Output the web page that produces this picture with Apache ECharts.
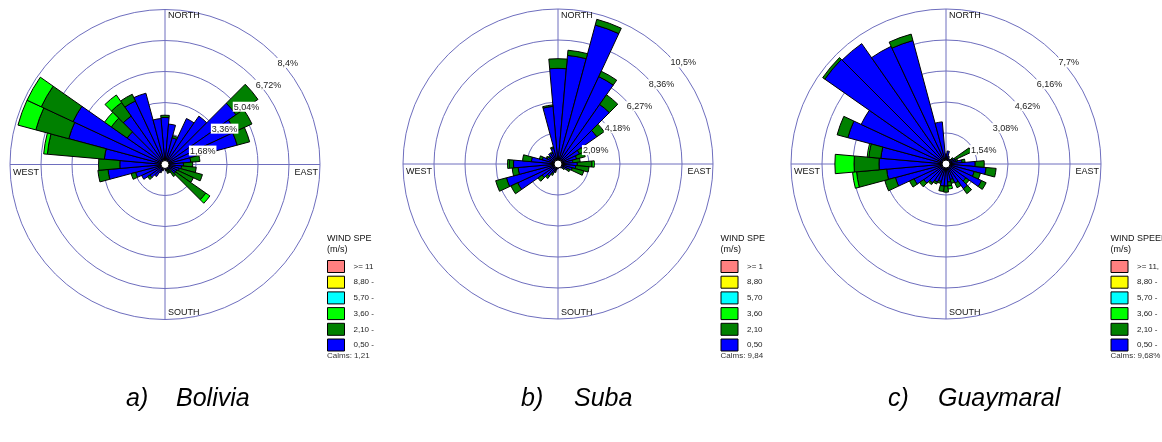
<!DOCTYPE html>
<html><head><meta charset="utf-8">
<script src="https://cdn.jsdelivr.net/npm/echarts@6/dist/echarts.min.js"></script>
<style>html,body{margin:0;padding:0;background:#fff}#c{width:1162px;height:442px}</style>
</head><body><div id="c"></div>
<script>
// ---------- data ----------
const directions = ['0','10','20','30','40','50','60','70','80','90','100','110','120','130','140','150','160','170',
  '180','190','200','210','220','230','240','250','260','270','280','290','300','310','320','330','340','350'];
const speedClasses = ['0,50 - 2,10','2,10 - 3,60','3,60 - 5,70','5,70 - 8,80','8,80 - 11,10','>= 11,10'];
const classColors = ['#0000ff','#008000','#00ff00','#00ffff','#ffff00','#ff8080'];
const compassNames = ['NORTH','EAST','SOUTH','WEST'];
const stationNames = ['Bolivia','Suba','Guaymaral'];
const stationLetters = ['a)','b)','c)'];
const calms = ['Calms: 1,21%','Calms: 9,84%','Calms: 9,68%'];
const ringSteps = [1.68, 2.09, 1.54];
const boliviaRings = ['1,68%','3,36%','5,04%','6,72%','8,4%'];
const subaRings = ['2,09%','4,18%','6,27%','8,36%','10,5%'];
const guaymaralRings = ['1,54%','3,08%','4,62%','6,16%','7,7%'];

// Bolivia (% frequency per 10-degree sector, N clockwise)
const boliviaBlue = [2.55,2.2,1.5,2.75,3.2,4.7,4.2,4.05,1.4,1.0,0.9,0.8,0.7,0.7,0.35,0.3,0.3,0.25,
  0.2,0.25,0.35,0.5,0.8,1.0,1.4,1.65,3.1,2.45,3.3,5.4,5.5,2.5,3.2,3.8,4.0,2.5];
const boliviaDkGreen = [0.12,0,0.12,0,0,1.45,1.0,0.7,0.5,0.5,0.8,1.3,1.0,2.0,0.45,0.2,0.2,0.1,
  0,0,0,0,0,0.15,0,0.25,0.55,1.15,3.1,1.85,1.9,1.05,0.9,0.4,0,0];
const boliviaLtGreen = [0,0,0,0,0,0,0,0,0,0,0,0,0,0.27,0,0,0,0,
  0,0,0,0,0,0,0,0,0,0,0.2,1.0,0.85,0.45,0.5,0,0,0];
const boliviaCyan = [0,0,0,0,0,0,0,0,0,0,0,0,0,0,0,0,0,0,0,0,0,0,0,0,0,0,0,0,0,0,0,0,0,0,0,0];
const boliviaYellow = [0,0,0,0,0,0,0,0,0,0,0,0,0,0,0,0,0,0,0,0,0,0,0,0,0,0,0,0,0,0,0,0,0,0,0,0];
const boliviaPink = [0,0,0,0,0,0,0,0,0,0,0,0,0,0,0,0,0,0,0,0,0,0,0,0,0,0,0,0,0,0,0,0,0,0,0,0];

// Suba
const subaBlue = [6.45,7.35,9.7,6.5,4.9,3.2,1.6,1.3,1.0,1.3,1.2,1.0,0.7,0.45,0.35,0.3,0.25,0.25,
  0.3,0.35,0.5,0.7,1.0,1.3,3.0,3.6,2.7,3.0,1.8,1.1,0.8,0.7,0.9,0.8,1.1,3.9];
const subaDkGreen = [0.65,0.35,0.4,0.4,0.8,0.6,0.3,0.6,0.5,1.0,0.9,0.8,0.2,0.1,0,0,0,0,
  0,0,0.1,0.15,0.2,0.35,0.5,0.75,0.4,0.3,0.6,0.2,0.1,0.1,0,0.1,0.1,0.1];
const subaLtGreen = [0,0,0,0,0,0,0,0,0,0.15,0,0,0,0,0,0,0,0,
  0,0,0,0,0,0,0,0,0,0.1,0,0,0,0,0,0,0,0];
const subaCyan = [0,0,0,0,0,0,0,0,0,0,0,0,0,0,0,0,0,0,0,0,0,0,0,0,0,0,0,0,0,0,0,0,0,0,0,0];
const subaYellow = [0,0,0,0,0,0,0,0,0,0,0,0,0,0,0,0,0,0,0,0,0,0,0,0,0,0,0,0,0,0,0,0,0,0,0,0];
const subaPink = [0,0,0,0,0,0,0,0,0,0,0,0,0,0,0,0,0,0,0,0,0,0,0,0,0,0,0,0,0,0,0,0,0,0,0,0];

// Guaymaral
const guaymaralBlue = [0.5,0.65,0.4,0.3,0.3,0.35,0.5,0.5,0.8,1.45,2.0,1.45,1.95,1.2,1.5,1.05,0.8,0.9,
  1.1,1.1,0.9,1.0,1.15,1.35,1.75,2.6,2.96,3.33,3.25,5.05,4.65,7.35,7.3,6.45,6.35,2.1];
const guaymaralDkGreen = [0,0,0,0,0,0.1,0.9,0.1,0.15,0.45,0.5,0.32,0.25,0.2,0.3,0.25,0.2,0.2,
  0.3,0.27,0.1,0.1,0.1,0.25,0.25,0.55,1.5,1.24,0.6,0.55,0,0.13,0,0,0.33,0];
const guaymaralLtGreen = [0,0,0,0,0,0,0,0,0,0,0,0,0,0,0,0,0,0.15,
  0,0,0,0,0,0,0,0,0.2,0.95,0.08,0,0,0,0,0,0,0];
const guaymaralCyan = [0,0,0,0,0,0,0,0,0,0,0,0,0,0,0,0,0,0,0,0,0,0,0,0,0,0,0,0,0,0,0,0,0,0,0,0];
const guaymaralYellow = [0,0,0,0,0,0,0,0,0,0,0,0,0,0,0,0,0,0,0,0,0,0,0,0,0,0,0,0,0,0,0,0,0,0,0,0];
const guaymaralPink = [0,0,0,0,0,0,0,0,0,0,0,0,0,0,0,0,0,0,0,0,0,0,0,0,0,0,0,0,0,0,0,0,0,0,0,0];

const stationSeries = [
  [boliviaBlue, boliviaDkGreen, boliviaLtGreen, boliviaCyan, boliviaYellow, boliviaPink],
  [subaBlue, subaDkGreen, subaLtGreen, subaCyan, subaYellow, subaPink],
  [guaymaralBlue, guaymaralDkGreen, guaymaralLtGreen, guaymaralCyan, guaymaralYellow, guaymaralPink]
];
const stationRings = [boliviaRings, subaRings, guaymaralRings];

// ---------- layout ----------
const CENTERS = [[165,164.5],[558,164],[946,164]];
const R = 155;
const LEGEND_X = [327, 720.5, 1110.5];
const LEGEND_TEXT_W = [21.5, 17.5, 26];   // visible width of legend labels (panel is cropped)
const TITLE_W = [52, 48.5, 60];
const CALM_W = [48.5, 46.5, 60];
const CAPTION_X = [[126,176],[521,574],[888,938]];
const CAPTION_Y = 399;
const GRID = '#6e6ebe';
const FONT = '"Liberation Sans", Arial, sans-serif';

const chart = echarts.init(document.getElementById('c'));
const polar = [], angleAxis = [], radiusAxis = [], series = [], legend = [], graphic = [];

stationNames.forEach((name, i) => {
  const [cx, cy] = CENTERS[i];
  const step = ringSteps[i];
  const max = +(step * 5).toFixed(4);
  const pMain = 2 * i, pCross = 2 * i + 1;
  polar.push({ center: [cx, cy], radius: [0, R] });
  polar.push({ center: [cx, cy], radius: [0, R] });
  angleAxis.push({ polarIndex: pMain, type: 'category', data: directions, startAngle: 95, clockwise: true,
    boundaryGap: true, axisLine: { show: false }, axisTick: { show: false }, axisLabel: { show: false }, splitLine: { show: false } });
  radiusAxis.push({ polarIndex: pMain, type: 'value', min: 0, max: max, interval: step,
    axisLine: { show: false }, axisTick: { show: false }, axisLabel: { show: false },
    splitLine: { show: true, lineStyle: { color: GRID, width: 1 } } });
  angleAxis.push({ polarIndex: pCross, type: 'value', min: 0, max: 360, interval: 90, startAngle: 90, clockwise: true,
    axisLine: { show: false }, axisTick: { show: false }, axisLabel: { show: false },
    splitLine: { show: true, lineStyle: { color: GRID, width: 1 } } });
  radiusAxis.push({ polarIndex: pCross, type: 'value', min: 0, max: 1, axisLine: { show: false }, axisTick: { show: false },
    axisLabel: { show: false }, splitLine: { show: false } });

  stationSeries[i].forEach((vals, j) => {
    series.push({
      type: 'bar', coordinateSystem: 'polar', polarIndex: pMain, name: speedClasses[j], stack: 'st' + i,
      data: vals.map(v => (v > 0 ? v : '-')),
      barCategoryGap: '0%',
      itemStyle: { color: classColors[j], borderColor: '#000', borderWidth: 1 },
      emphasis: { disabled: true }, animation: false, z: 3
    });
  });
  // calm circle at the centre
  series.push({ type: 'pie', center: [cx, cy], radius: [0, 4], silent: true, animation: false,
    data: [{ value: 1, name: 'calm' + i }], label: { show: false }, labelLine: { show: false },
    itemStyle: { color: '#fff', borderColor: '#000', borderWidth: 1 }, z: 5 });

  const lx = LEGEND_X[i];
  legend.push({ left: lx, top: 260, padding: 0, orient: 'vertical', itemWidth: 17, itemHeight: 12, itemGap: 2.7, icon: 'rect',
    selectedMode: false, data: speedClasses.slice().reverse(),
    itemStyle: { borderColor: '#000', borderWidth: 1 },
    textStyle: { fontSize: 8, fontFamily: FONT, color: '#222',
      width: LEGEND_TEXT_W[i], overflow: 'truncate', ellipsis: '', padding: [0, 0, 0, 4] } });

  const txt = (t, x, y, opt) => graphic.push({ type: 'text', z: 50, silent: true,
    style: Object.assign({ text: t, x: x, y: y, fill: '#111', font: '9px ' + FONT, align: 'left', verticalAlign: 'middle' }, opt || {}) });

  txt('WIND SPEED', lx, 238.5, { width: TITLE_W[i], overflow: 'truncate', ellipsis: '' });
  txt('(m/s)', lx, 250, { width: TITLE_W[i], overflow: 'truncate', ellipsis: '' });
  txt(calms[i], lx, 356, { font: '8px ' + FONT, fill: '#333', width: CALM_W[i], overflow: 'truncate', ellipsis: '' });

  // compass labels
  txt(compassNames[0], cx + 3, cy - 148.5);
  txt(compassNames[1], cx + 153, cy + 8, { align: 'right' });
  txt(compassNames[2], cx + 3, cy + 148.5);
  txt(compassNames[3], cx - 152, cy + 8);

  // ring labels along 45 degrees
  stationRings[i].forEach((lab, k) => {
    const r = R * (k + 1) / 5;
    graphic.push({ type: 'text', z: 40, silent: true,
      style: { text: lab, x: cx + r * Math.SQRT1_2 + 2, y: cy - r * Math.SQRT1_2 + 3, fill: '#222', font: '9px ' + FONT,
        align: 'left', verticalAlign: 'top', backgroundColor: '#fff', padding: [1, 1, 0, 1] } });
  });

  // caption
  graphic.push({ type: 'text', silent: true, style: { text: stationLetters[i], x: CAPTION_X[i][0], y: CAPTION_Y,
    fill: '#000', font: 'italic 25px ' + FONT, verticalAlign: 'middle' } });
  graphic.push({ type: 'text', silent: true, style: { text: name, x: CAPTION_X[i][1], y: CAPTION_Y,
    fill: '#000', font: 'italic 25px ' + FONT, verticalAlign: 'middle' } });
});

chart.setOption({ animation: false, backgroundColor: '#fff', polar, angleAxis, radiusAxis, series, legend, graphic });
</script></body></html>
